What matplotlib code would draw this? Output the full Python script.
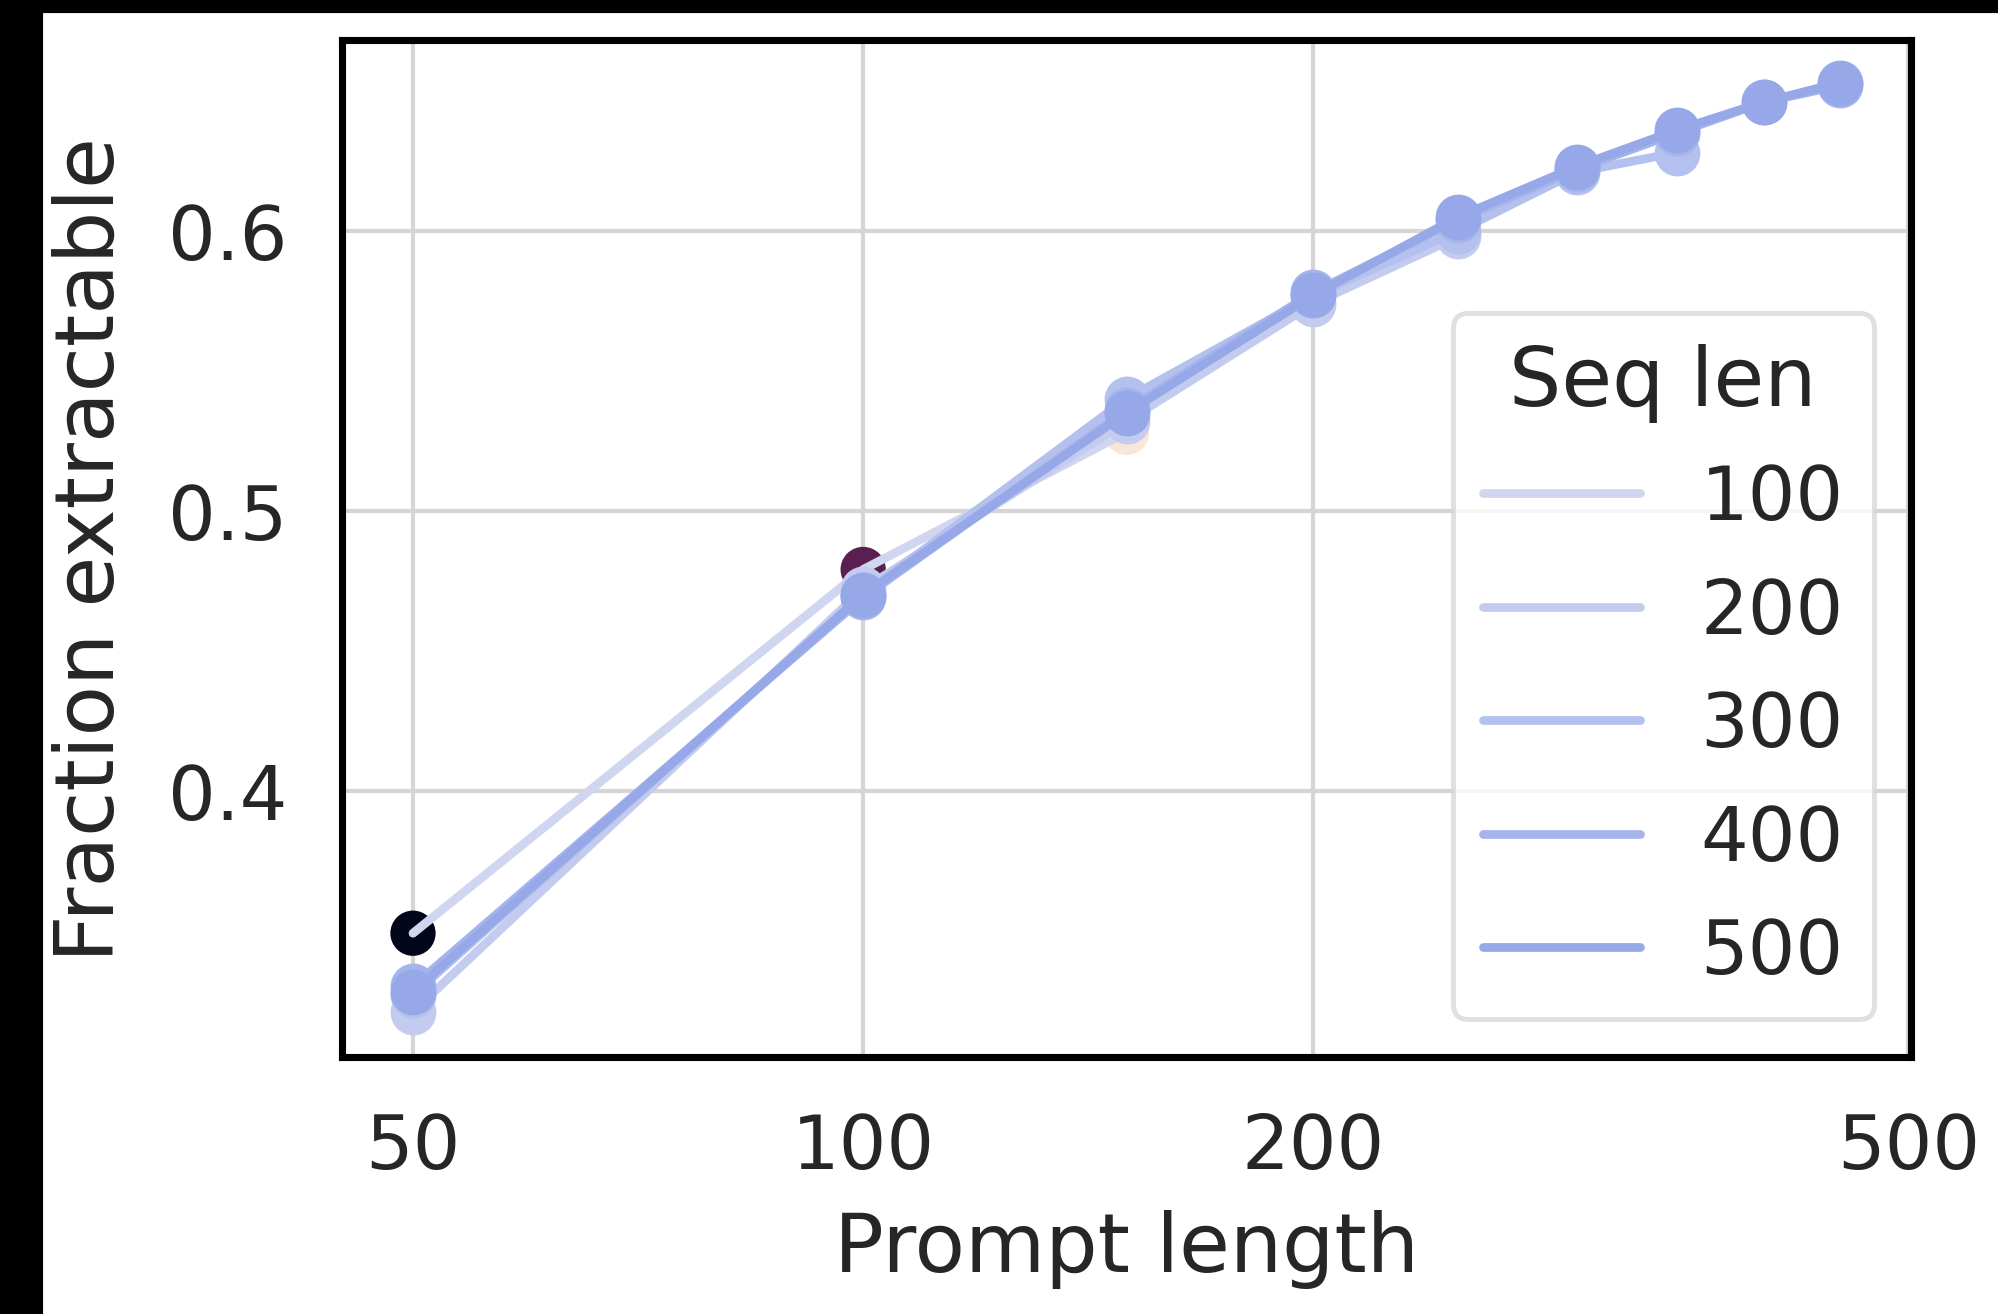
import matplotlib
matplotlib.use("Agg")
import matplotlib.pyplot as plt
from matplotlib.lines import Line2D
from matplotlib.patches import Rectangle
from matplotlib.ticker import FixedLocator, FixedFormatter, NullLocator

# prompt lengths (x) and fraction extractable per sequence length
prompt_len = [50, 100, 150, 200, 250, 300, 350, 400, 450]
seq_lens = ["100", "200", "300", "400", "500"]
frac_100 = [0.349, 0.479, 0.528]
frac_200 = [0.321, 0.472, 0.532, 0.574, 0.598]
frac_300 = [0.327, 0.470, 0.540, 0.577, 0.600, 0.621, 0.628]
frac_400 = [0.330, 0.469, 0.536, 0.578, 0.604, 0.622, 0.635, 0.646, 0.652]
frac_500 = [0.328, 0.470, 0.535, 0.577, 0.605, 0.623, 0.636, 0.646, 0.653]
series = [frac_100, frac_200, frac_300, frac_400, frac_500]

line_colors = ["#d0d6ef", "#c3ccef", "#b4c1ee", "#a5b4eb", "#97a8e9"]
point_colors = ["#03051a", "#5a1e51", "#f8e6d8"]  # rocket-like points on seq len 100

x_ticks = [50, 100, 200, 500]
y_ticks = [0.4, 0.5, 0.6]

txt = "#262626"
plt.rcParams["font.family"] = ["DejaVu Sans"]
plt.rcParams["text.color"] = txt
plt.rcParams["axes.labelcolor"] = txt
plt.rcParams["xtick.color"] = txt
plt.rcParams["ytick.color"] = txt

fig = plt.figure(figsize=(6.66, 4.3833), dpi=300)
ax = fig.add_axes([0.171, 0.1955, 0.9565 - 0.171, 0.969 - 0.1955])

ax.scatter(prompt_len[:len(frac_100)], frac_100, c=point_colors, s=118,
           linewidths=0, zorder=1.5)

for i, (lab, ys) in enumerate(zip(seq_lens, series)):
    xs = prompt_len[:len(ys)]
    if i == 0:
        ax.plot(xs, ys, color=line_colors[i], lw=2.1, zorder=2 + i * 0.1,
                solid_capstyle="round")
    else:
        ax.plot(xs, ys, color=line_colors[i], lw=2.1, marker="o", ms=11,
                mew=0, zorder=2 + i * 0.1, solid_capstyle="round")

ax.set_xscale("log")
ax.set_xlim(44.8, 502)
ax.set_ylim(0.3048, 0.6683)
ax.xaxis.set_major_locator(FixedLocator(x_ticks))
ax.xaxis.set_major_formatter(FixedFormatter([str(v) for v in x_ticks]))
ax.xaxis.set_minor_locator(NullLocator())
ax.set_yticks(y_ticks)
ax.set_yticklabels([str(v) for v in y_ticks])

ax.tick_params(axis="both", length=0, pad=13, labelsize=18)
ax.grid(True, color="#d5d5d5", lw=1.0, zorder=0)
ax.set_axisbelow(True)
for sp in ax.spines.values():
    sp.set_color("black")
    sp.set_linewidth(1.7)

ax.set_xlabel("Prompt length", fontsize=19.8, labelpad=6)
ax.set_ylabel("Fraction extractable", fontsize=19.8, labelpad=9)

handles = [Line2D([], [], color=c, lw=2.1, solid_capstyle="round") for c in line_colors]
leg = ax.legend(handles, seq_lens, title="Seq len", loc="lower right",
                fontsize=18, title_fontsize=19.8, frameon=True,
                framealpha=0.8, edgecolor="#d9d9d9", fancybox=True,
                borderaxespad=0.5, labelspacing=0.54, handlelength=2.1)
leg.get_frame().set_linewidth(1.2)

# black border strips of the source image
fig.patches.append(Rectangle((0, 0), 41 / 1998, 1, transform=fig.transFigure,
                             color="black", zorder=10))
fig.patches.append(Rectangle((0, 1 - 12 / 1315), 1, 12 / 1315,
                             transform=fig.transFigure, color="black", zorder=10))

fig.savefig("out.png", dpi=300)
